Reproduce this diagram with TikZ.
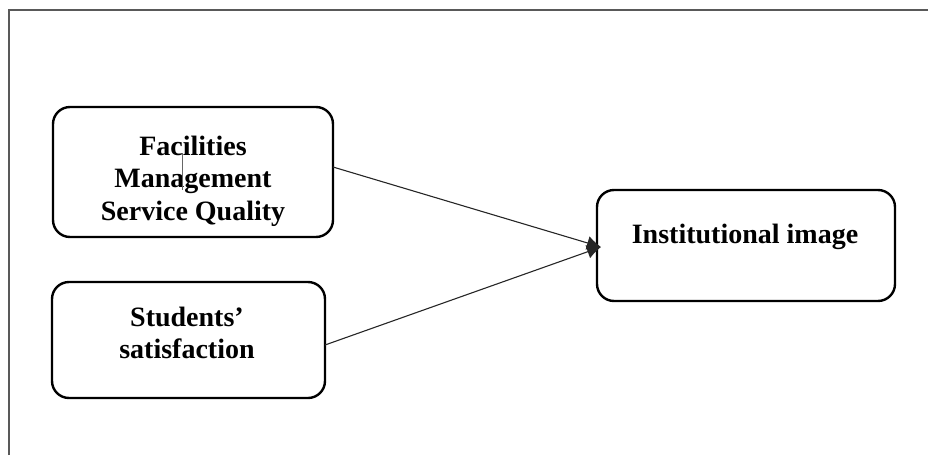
\documentclass[tikz,border=0pt]{standalone}
\usepackage{fontspec}
\setmainfont{Liberation Serif}
\usetikzlibrary{arrows.meta}
\begin{document}
\begin{tikzpicture}[x=1pt,y=-1pt,
  box/.style={draw=black, line width=2.4pt, rounded corners=17pt, inner sep=0pt},
  lbl/.style={font=\fontsize{28}{32.5}\selectfont\bfseries, align=center, inner sep=0pt},
  link/.style={draw=black!85, line width=1.1pt},
  frame/.style={draw=black!65, line width=1.6pt}]
\useasboundingbox (0,0) rectangle (928,455);
% outer frame (only top and left edges visible)
\coordinate (fa) at (9,455);
\coordinate (fb) at (9,10);
\coordinate (fc) at (928,10);
\draw[frame] (fa) -- (fb) -- (fc);
% boxes
\node[box, minimum width=280pt, minimum height=130pt] (b1) at (193,172) {};
\node[box, minimum width=273pt, minimum height=116pt] (b2) at (188.5,340) {};
\node[box, minimum width=298pt, minimum height=111pt] (b3) at (746,245.5) {};
% labels
\node[lbl] (t1) at (193,181) {Facilities\\Management\\Service Quality};
\node[lbl] (t2) at (187,333) {Students’\\satisfaction};
\node[lbl] (t3) at (745,237) {Institutional image};
% stray mark
\coordinate (s1) at (182,153);
\coordinate (s2) at (182,190);
\draw[draw=black!60, line width=0.7pt] (s1) -- (s2);
% connectors
\coordinate (tip) at (601,247);
\coordinate (o1) at (333,167);
\coordinate (o2) at (325,345);
\draw[link, -{Latex[length=14pt,width=14pt]}] (o1) -- (tip);
\draw[link, -{Latex[length=14pt,width=14pt]}] (o2) -- (tip);
\end{tikzpicture}
\end{document}
